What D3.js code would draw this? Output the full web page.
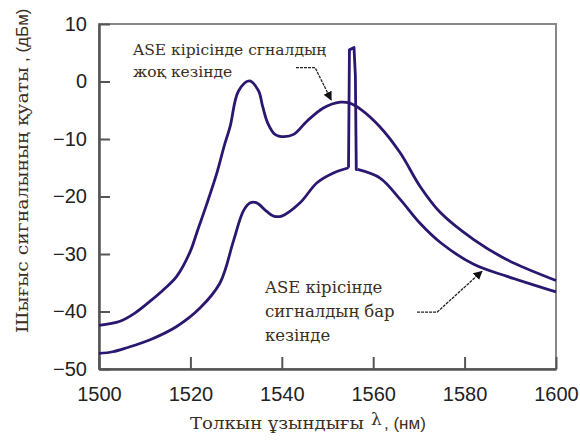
<!DOCTYPE html>
<html lang="kk">
<head>
<meta charset="UTF-8">
<title>ASE spectrum</title>
<script src="https://d3js.org/d3.v7.min.js"></script>
<style>
  body { margin: 0; background: #fff; }
  svg { display: block; }
  .tick-label { font-family: 'Liberation Sans', Arial, sans-serif; font-size: 20px; fill: #222; }
  .note { font-family: 'DejaVu Serif', 'Liberation Serif', serif; fill: #3a2e1c; }
  .ttl { font-family: 'DejaVu Serif', 'Liberation Serif', serif; font-size: 17px; fill: #3a2e1c; }
  .sans { font-family: 'Liberation Sans', Arial, sans-serif; }
</style>
</head>
<body>
<svg id="chart" width="580" height="441"></svg>
<script>
// x ticks / y ticks
const xTicks = [1500, 1520, 1540, 1560, 1580, 1600];
const yTicks = [-50, -40, -30, -20, -10, 0, 10];

// without signal at the ASE input (upper curve)
const noSigX = [1500, 1504.6, 1508, 1511.2, 1514, 1517, 1520, 1521.4, 1523.5, 1525.8, 1527.4, 1528.7, 1530.5, 1532.9, 1534.9, 1535.8, 1536.9, 1538.5, 1540.5, 1542.6, 1545.5, 1549.1, 1552.8, 1555, 1557.2, 1561.5, 1565.9, 1570.3, 1574.7, 1582, 1589.3, 1600];
const noSigY = [-42.4, -41.7, -40.2, -38.2, -36.3, -33.9, -29.5, -26.3, -21.5, -15.9, -11.2, -7.8, -1.7, 0.1, -1.6, -4.3, -7.2, -9.2, -9.6, -9.2, -6.9, -4.6, -3.6, -3.8, -4.8, -7.9, -12.4, -18.3, -22.8, -27.5, -31, -34.6];

// with signal at the ASE input (lower curve, with the signal line)
const sigX = [1500, 1503, 1506.1, 1511.2, 1517, 1522.1, 1526.5, 1529.4, 1531.6, 1533.1, 1534.5, 1536.7, 1538.2, 1540, 1544, 1547.7, 1551.3, 1554.6, 1554.8, 1555.8, 1556.1, 1556.3, 1556.6, 1561.5, 1565.9, 1570.3, 1574.7, 1582, 1589.3, 1600];
const sigY = [-47.3, -47, -46.3, -44.9, -42.6, -39.4, -35, -27.8, -22.5, -21.1, -21.1, -22.6, -23.4, -23.4, -21.1, -17.6, -15.9, -15, 5.5, 5.9, 1, -15.3, -15.3, -16.8, -20.5, -24.7, -28, -31.8, -33.9, -36.6];
// signal line sits between these wavelengths
const spikeFrom = 1554.6, spikeTo = 1556.6;

const svg = d3.select("#chart");
const m = { left: 99, top: 24, right: 556, bottom: 369 };

const x = d3.scaleLinear().domain([1500, 1600]).range([m.left, m.right]);
const y = d3.scaleLinear().domain([-50, 10]).range([m.bottom, m.top]);

// frame
svg.append("rect")
  .attr("x", m.left).attr("y", m.top)
  .attr("width", m.right - m.left).attr("height", m.bottom - m.top)
  .attr("fill", "none").attr("stroke", "#888").attr("stroke-width", 2);

// axes with inward ticks
const xAxis = svg.append("g")
  .attr("transform", `translate(0,${m.bottom})`)
  .call(d3.axisBottom(x).tickValues(xTicks).tickFormat(d3.format("d"))
    .tickSizeInner(-12).tickSizeOuter(0).tickPadding(14));
const yAxis = svg.append("g")
  .attr("transform", `translate(${m.left},0)`)
  .call(d3.axisLeft(y).tickValues(yTicks).tickFormat(d3.format("d"))
    .tickSizeInner(-11).tickSizeOuter(0).tickPadding(12));

[xAxis, yAxis].forEach(a => {
  a.select(".domain").attr("stroke", "#555").attr("stroke-width", 2.5);
  a.selectAll(".tick line").attr("stroke", "#555").attr("stroke-width", 2);
  a.selectAll(".tick text").attr("class", "tick-label").attr("fill", "#222");
});
xAxis.selectAll(".tick text").attr("dy", "0.9em");

// curves
const smooth = d3.line()
  .x(d => x(d[0]))
  .y(d => y(d[1]))
  .curve(d3.curveCatmullRom.alpha(0.5));
const sharp = d3.line()
  .x(d => x(d[0]))
  .y(d => y(d[1]));

const curveColor = "#2b176f";
function drawPath(pts, gen) {
  svg.append("path")
    .datum(pts)
    .attr("d", gen)
    .attr("fill", "none").attr("stroke", curveColor)
    .attr("stroke-width", 2.8).attr("stroke-linejoin", "round");
}
drawPath(d3.zip(noSigX, noSigY), smooth);

const sig = d3.zip(sigX, sigY);
drawPath(sig.filter(d => d[0] <= spikeFrom), smooth);
drawPath(sig.filter(d => d[0] >= spikeFrom && d[0] <= spikeTo), sharp);
drawPath(sig.filter(d => d[0] >= spikeTo), smooth);

// arrows
svg.append("defs").append("marker")
  .attr("id", "arr").attr("viewBox", "0 0 10 10")
  .attr("refX", 9).attr("refY", 5)
  .attr("markerWidth", 9).attr("markerHeight", 9)
  .attr("markerUnits", "userSpaceOnUse")
  .attr("orient", "auto")
  .append("path").attr("d", "M0,0 L10,5 L0,10 z").attr("fill", "#111");

function arrow(pts) {
  svg.append("path")
    .attr("d", d3.line()(pts.map(p => [x(p[0]), y(p[1])])))
    .attr("fill", "none").attr("stroke", "#222").attr("stroke-width", 1.3)
    .attr("stroke-dasharray", "3,1")
    .attr("marker-end", "url(#arr)");
}
arrow([[1543.1, 2.4], [1547.3, 2.4], [1550.8, -3.2]]);
arrow([[1569.6, -40.1], [1574.0, -40.1], [1583.8, -33.0]]);

// annotations
const n1 = svg.append("text").attr("class", "note").attr("font-size", 15.5).attr("x", 133).attr("y", 55);
n1.append("tspan").attr("x", 133).text("ASE кірісінде сгналдың");
n1.append("tspan").attr("x", 133).attr("dy", 21.5).text("жоқ кезінде");

const n2 = svg.append("text").attr("class", "note").attr("font-size", 16.5).attr("x", 265).attr("y", 293);
n2.append("tspan").attr("x", 265).text("ASE кірісінде");
n2.append("tspan").attr("x", 265).attr("dy", 24).text("сигналдың бар");
n2.append("tspan").attr("x", 265).attr("dy", 24).text("кезінде");

// axis titles
svg.append("text").attr("class", "ttl")
  .attr("x", 190).attr("y", 429)
  .attr("textLength", 174).attr("lengthAdjust", "spacingAndGlyphs")
  .text("Толкын ұзындығы");
svg.append("text").attr("class", "ttl")
  .attr("x", 371).attr("y", 425).attr("font-size", 22)
  .text("λ");
svg.append("text").attr("class", "ttl sans")
  .attr("x", 384).attr("y", 429).attr("font-size", 17)
  .text(", (нм)");

const yt = svg.append("g").attr("transform", "translate(28,0) rotate(-90)");
yt.append("text").attr("class", "ttl")
  .attr("x", -333).attr("y", 0)
  .attr("textLength", 266).attr("lengthAdjust", "spacingAndGlyphs")
  .text("Шығыс сигналының қуаты");
yt.append("text").attr("class", "ttl sans")
  .attr("x", -62).attr("y", 0).attr("font-size", 17)
  .text(", (дБм)");
</script>
</body>
</html>
